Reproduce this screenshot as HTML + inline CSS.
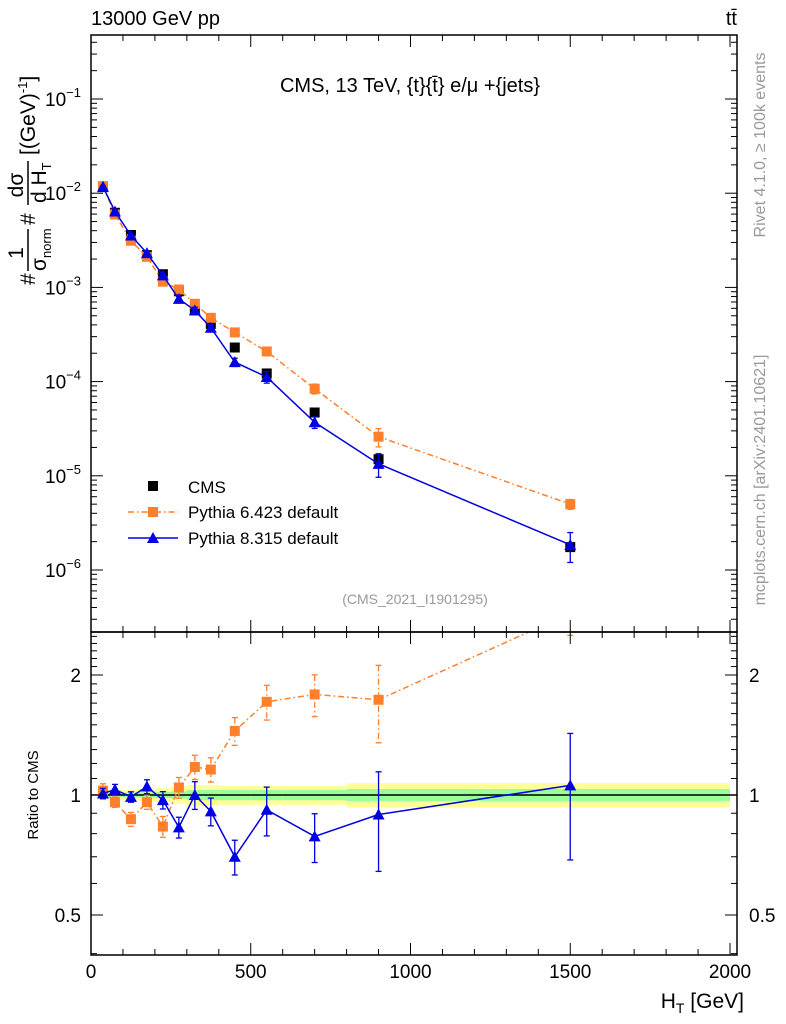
<!DOCTYPE html>
<html><head><meta charset="utf-8"><style>
body{margin:0;background:#fff;}
svg{display:block;font-family:"Liberation Sans",sans-serif;}
</style></head><body>
<svg id="c" width="786" height="1024">
<g id="g"></g>
<text x="91" y="25" font-size="20">13000 GeV pp</text>
<text x="737" y="25" font-size="20" text-anchor="end">tt̄</text>
<text x="410" y="92" font-size="20" text-anchor="middle">CMS, 13 TeV, {t}{t̄} e/μ +{jets}</text>
<text x="415" y="604" font-size="14" fill="#999" text-anchor="middle">(CMS_2021_I1901295)</text>
<g font-size="17">
<rect x="148" y="481" width="10" height="10" fill="#000"/>
<text x="188" y="493">CMS</text>
<line x1="128" x2="178" y1="512" y2="512" stroke="#ff7f2a" stroke-width="1.5" stroke-dasharray="6 3 1.5 3"/>
<rect x="148" y="507" width="10" height="10" fill="#ff7f2a"/>
<text x="188" y="518">Pythia 6.423 default</text>
<line x1="128" x2="178" y1="538" y2="538" stroke="#0000e0" stroke-width="1.5"/>
<polygon points="153,532 147,543 159,543" fill="#0000e0"/>
<text x="188" y="544">Pythia 8.315 default</text>
</g>
<g transform="translate(28,285) rotate(-90)" font-size="21">
<text x="0" y="7">#</text>
<text x="32" y="-5" text-anchor="middle">1</text>
<line x1="14" x2="56" y1="0" y2="0" stroke="#000" stroke-width="1.5"/>
<text x="14" y="18">σ<tspan font-size="13" dy="5">norm</tspan></text>
<text x="60" y="7">#</text>
<text x="100" y="-5" text-anchor="middle">dσ</text>
<line x1="80" x2="124" y1="0" y2="0" stroke="#000" stroke-width="1.5"/>
<text x="82" y="18">d H<tspan font-size="13" dy="5">T</tspan></text>
<text x="130" y="7">[(GeV)<tspan font-size="13" dy="-8">-1</tspan><tspan dy="8">]</tspan></text>
</g>
<text transform="translate(38,795) rotate(-90)" font-size="15" text-anchor="middle">Ratio to CMS</text>
<text x="744" y="1008" font-size="21" text-anchor="end">H<tspan font-size="14" dy="5">T</tspan><tspan dy="-5"> [GeV]</tspan></text>
<text transform="translate(765,145) rotate(-90)" font-size="16" fill="#999" text-anchor="middle">Rivet 4.1.0, ≥ 100k events</text>
<text transform="translate(765,480) rotate(-90)" font-size="16" fill="#999" text-anchor="middle">mcplots.cern.ch [arXiv:2401.10621]</text>
</svg>
<script>
const edges=[25,50,100,150,200,250,300,350,400,500,600,800,1000,2000];
const centers=[37.5,75,125,175,225,275,325,375,450,550,700,900,1500];
const cms=[1.16e-2,6.2e-3,3.6e-3,2.2e-3,1.38e-3,9.1e-4,5.7e-4,4.1e-4,2.3e-4,1.22e-4,4.7e-5,1.5e-5,1.75e-6];
const p6=[1.19e-2,5.95e-3,3.13e-3,2.11e-3,1.15e-3,9.5e-4,6.7e-4,4.75e-4,3.33e-4,2.09e-4,8.4e-5,2.6e-5,5.0e-6];
const p6err=[0.04,0.03,0.04,0.04,0.06,0.06,0.07,0.07,0.08,0.1,0.12,0.22,0.12];
const p8=[1.17e-2,6.4e-3,3.56e-3,2.31e-3,1.34e-3,7.55e-4,5.7e-4,3.73e-4,1.61e-4,1.12e-4,3.7e-5,1.34e-5,1.85e-6];
const p8err=[0.03,0.03,0.03,0.04,0.05,0.06,0.08,0.08,0.1,0.14,0.14,0.28,0.35];
const bandTot=[0.03,0.03,0.03,0.035,0.04,0.05,0.06,0.06,0.055,0.055,0.055,0.07,0.07];
const bandStat=[0.012,0.012,0.014,0.015,0.018,0.022,0.03,0.03,0.03,0.03,0.03,0.035,0.035];
const yTicks=["10^-1","10^-2","10^-3","10^-4","10^-5","10^-6"];
const xTicks=[0,500,1000,1500,2000];
const rTicks=[0.5,1,2];

const NS="http://www.w3.org/2000/svg";
const G=document.getElementById('g');
function el(t,a,p){const e=document.createElementNS(NS,t);for(const k in a)e.setAttribute(k,a[k]);(p||G).appendChild(e);return e;}
const L=91,R=737,T=35,MB=632,B=955;
const X=v=>91+v*0.3195;
const Y=v=>99-(Math.log10(v)+1)*94.2;
const RY=r=>795-Math.log2(r)*120;

const defs=el('defs',{});
const cp=el('clipPath',{id:'cm'},defs);el('rect',{x:L,y:T,width:R-L,height:MB-T},cp);
const cr=el('clipPath',{id:'cr'},defs);el('rect',{x:L,y:MB,width:R-L,height:B-MB},cr);

const gr=el('g',{'clip-path':'url(#cr)'});


for(let i=0;i<centers.length;i++){
  const x0=X(edges[i]),x1=X(edges[i+1]);
  el('rect',{x:x0,y:RY(1+bandTot[i]),width:x1-x0,height:RY(1-bandTot[i])-RY(1+bandTot[i]),fill:'#ffff99'},gr);
  el('rect',{x:x0,y:RY(1+bandStat[i]),width:x1-x0,height:RY(1-bandStat[i])-RY(1+bandStat[i]),fill:'#99ff99'},gr);
}
el('line',{x1:L,x2:R,y1:RY(1),y2:RY(1),stroke:'#000','stroke-width':1.5});

function drawM(m,x,y,c,g){
  if(m==='sq') el('rect',{x:x-5,y:y-5,width:10,height:10,fill:c},g);
  else el('polygon',{points:`${x},${y-6} ${x-6},${y+5} ${x+6},${y+5}`,fill:c},g);
}
function series(vals,errs,color,dash,marker,ratio,name){
  const g=el('g',{'clip-path':ratio?'url(#cr)':'url(#cm)'});
  
  
  const pts=vals.map((v,i)=>[X(centers[i]),ratio?RY(v/cms[i]):Y(v)]);
  if(color!=='#000') el('polyline',{points:pts.map(p=>p.join(',')).join(' '),fill:'none',stroke:color,'stroke-width':1.5,'stroke-dasharray':dash||'none'},g);
  vals.forEach((v,i)=>{
    const r=ratio?v/cms[i]:v;const f=ratio?RY:Y;
    const e=errs?errs[i]:0.03;
    const y1=f(r*(1+e)),y2=f(r*(1-e));
    el('line',{x1:pts[i][0],x2:pts[i][0],y1:y1,y2:y2,stroke:color,'stroke-width':1.3,'stroke-dasharray':dash||'none'},g);
    el('line',{x1:pts[i][0]-3,x2:pts[i][0]+3,y1:y1,y2:y1,stroke:color,'stroke-width':1.3},g);
    el('line',{x1:pts[i][0]-3,x2:pts[i][0]+3,y1:y2,y2:y2,stroke:color,'stroke-width':1.3},g);
    drawM(marker,pts[i][0],pts[i][1],color,g);
  });
}
series(cms,null,'#000',null,'sq',false,'cms-data');
series(p6,p6err,'#ff7f2a','6 3 1.5 3','sq',false,'pythia6-series');
series(p8,p8err,'#0000e0',null,'tri',false,'pythia8-series');
series(p6,p6err,'#ff7f2a','6 3 1.5 3','sq',true,'pythia6-ratio');
series(p8,p8err,'#0000e0',null,'tri',true,'pythia8-ratio');

el('rect',{x:L,y:T,width:R-L,height:MB-T,fill:'none',stroke:'#000','stroke-width':1.5});
el('rect',{x:L,y:MB,width:R-L,height:B-MB,fill:'none',stroke:'#000','stroke-width':1.5});

for(let d=-7;d<=0;d++)for(let k=1;k<10;k++){
  const y=Y(k*Math.pow(10,d));if(y<T||y>MB)continue;
  const len=k===1?12:6;
  el('line',{x1:L,x2:L+len,y1:y,y2:y,stroke:'#000'});el('line',{x1:R,x2:R-len,y1:y,y2:y,stroke:'#000'});
}
yTicks.forEach((s,i)=>{const y=Y(Math.pow(10,-(i+1)));const t=el('text',{x:L-10,y:y+7,'text-anchor':'end','font-size':19});


t.innerHTML='10<tspan dy="-9" font-size="13">'+s.split('^')[1].replace('-','\u2212')+'</tspan>';});
for(let r=0.4;r<=2.6;r=+(r+0.1).toFixed(1)){const y=RY(r);if(y<MB||y>B)continue;
  const maj=rTicks.includes(r);const len=maj?12:6;
  el('line',{x1:L,x2:L+len,y1:y,y2:y,stroke:'#000'});el('line',{x1:R,x2:R-len,y1:y,y2:y,stroke:'#000'});}
rTicks.forEach(r=>{const y=RY(r)+7;
 const a=el('text',{x:L-10,y:y,'text-anchor':'end','font-size':19});a.textContent=r;
 
 
 const b=el('text',{x:R+12,y:y,'font-size':19});b.textContent=r;
 
 });
for(let v=0;v<=2000;v+=100){const x=X(v);const len=v%500===0?12:6;
 el('line',{x1:x,x2:x,y1:B,y2:B-len,stroke:'#000'});el('line',{x1:x,x2:x,y1:MB,y2:MB+len,stroke:'#000'});
 el('line',{x1:x,x2:x,y1:T,y2:T+len,stroke:'#000'});el('line',{x1:x,x2:x,y1:MB,y2:MB-len,stroke:'#000'});}
xTicks.forEach(v=>{const t=el('text',{x:X(v),y:978,'text-anchor':'middle','font-size':19});t.textContent=v;
 
 });
</script>
</body></html>
